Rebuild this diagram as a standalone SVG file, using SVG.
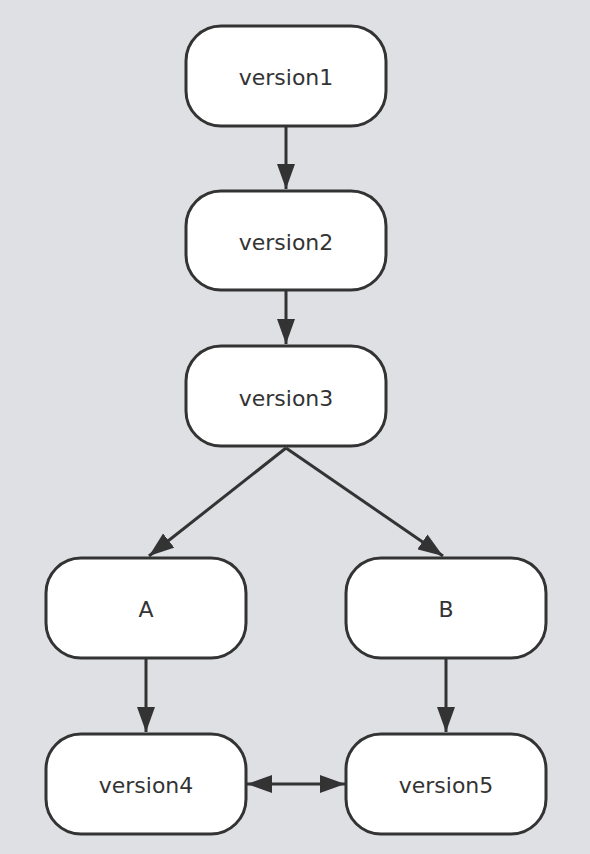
<svg xmlns="http://www.w3.org/2000/svg" width="590" height="854" viewBox="0 0 590 854">
  <style>
    .node rect { fill: #ffffff; stroke: #333333; stroke-width: 3; }
    .node text { font-family: "DejaVu Sans", "Liberation Sans", sans-serif; font-size: 22px; fill: #333333; text-anchor: middle; dominant-baseline: central; }
    .edge { stroke: #333333; stroke-width: 3; fill: none; }
  </style>
  <defs>
    <marker id="arrow" viewBox="0 0 25 18" refX="25" refY="9" markerWidth="25" markerHeight="18" markerUnits="userSpaceOnUse" orient="auto-start-reverse">
      <path d="M0,0 L25,9 L0,18 z" fill="#333333"/>
    </marker>
  </defs>
  <rect x="0" y="0" width="590" height="854" fill="#dfe0e4"/>

  <g id="connectors">
    <line class="edge" x1="286" y1="127" x2="286" y2="189" marker-end="url(#arrow)"/>
    <line class="edge" x1="286" y1="291" x2="286" y2="344" marker-end="url(#arrow)"/>
    <line class="edge" x1="286" y1="448" x2="149" y2="556" marker-end="url(#arrow)"/>
    <line class="edge" x1="286" y1="448" x2="443" y2="556" marker-end="url(#arrow)"/>
    <line class="edge" x1="146" y1="659" x2="146" y2="732" marker-end="url(#arrow)"/>
    <line class="edge" x1="446" y1="659" x2="446" y2="732" marker-end="url(#arrow)"/>
    <line class="edge" x1="247" y1="784" x2="345" y2="784" marker-start="url(#arrow)" marker-end="url(#arrow)"/>
  </g>

  <g id="version1" class="node">
    <rect x="186" y="26" width="200" height="100" rx="35" ry="35"/>
    <text x="286" y="77">version1</text>
  </g>
  <g id="version2" class="node">
    <rect x="186" y="191" width="200" height="99" rx="35" ry="35"/>
    <text x="286" y="242">version2</text>
  </g>
  <g id="version3" class="node">
    <rect x="186" y="346" width="200" height="100" rx="35" ry="35"/>
    <text x="286" y="398">version3</text>
  </g>
  <g id="A" class="node">
    <rect x="46" y="558" width="200" height="100" rx="35" ry="35"/>
    <text x="146" y="609">A</text>
  </g>
  <g id="B" class="node">
    <rect x="346" y="558" width="200" height="100" rx="35" ry="35"/>
    <text x="446" y="609">B</text>
  </g>
  <g id="version4" class="node">
    <rect x="46" y="734" width="200" height="100" rx="35" ry="35"/>
    <text x="146" y="785">version4</text>
  </g>
  <g id="version5" class="node">
    <rect x="346" y="734" width="200" height="100" rx="35" ry="35"/>
    <text x="446" y="785">version5</text>
  </g>
</svg>
